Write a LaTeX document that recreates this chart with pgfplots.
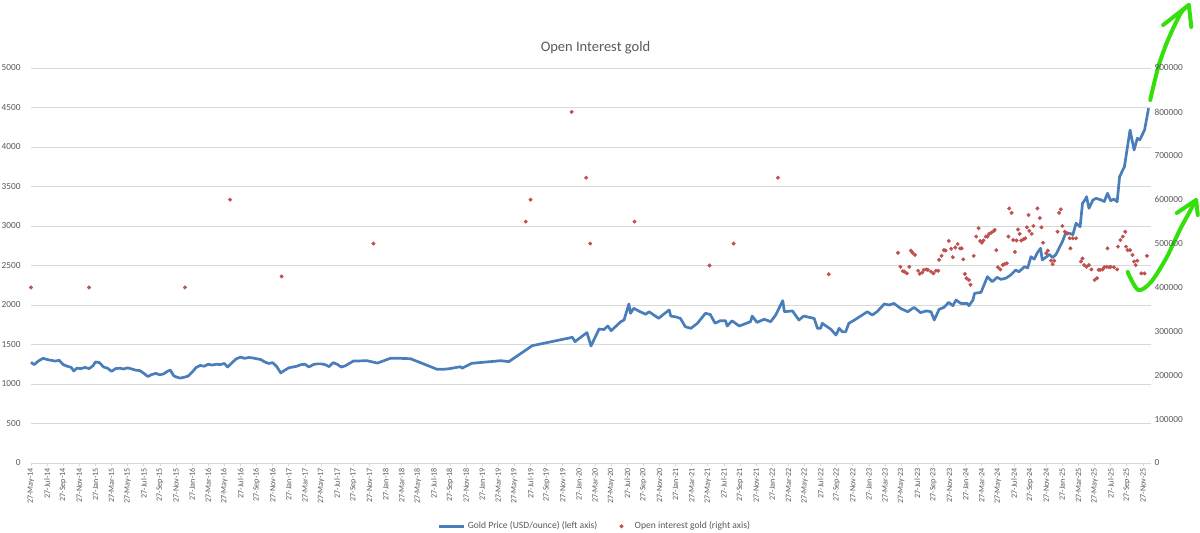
\documentclass[border=0pt]{standalone}
\usepackage{fontspec}
\setmainfont{Carlito}
\usepackage{pgfplots}
\pgfplotsset{compat=1.18}

\definecolor{goldline}{HTML}{4A7EBB}
\definecolor{oidot}{HTML}{C0504D}
\definecolor{txtgray}{HTML}{595959}
\definecolor{gridgray}{HTML}{D9D9D9}
\definecolor{pengreen}{HTML}{34E00C}

\pgfplotsset{
  chartbase/.style={
    width=1120pt, height=395pt, scale only axis,
    xmin=0, xmax=139,
    ticklabel style={font=\fontsize{9.3}{10}\selectfont, text=txtgray},
    /pgf/number format/assume math mode=true,
    /pgf/number format/fixed,
    /pgf/number format/precision=0,
    /pgf/number format/1000 sep={},
    scaled y ticks=false,
    ytick style={draw=none},
    y axis line style={draw=none},
  },
  longline/.style={legend image code/.code={\draw[##1] (0pt,0pt) -- (25pt,0pt);}},
  dotleg/.style={legend image code/.code={\path (0pt,0pt) (16pt,0pt); \draw[##1] plot coordinates {(5pt,0pt)};}},
}

\begin{document}
\begin{tikzpicture}
% left axis: gold price
\begin{axis}[chartbase, name=ax,
  clip=false,
  ymin=0, ymax=5000, ytick={0,500,...,5000},
  yticklabel style={xshift=-4pt},
  axis x line*=bottom, axis y line*=left,
  x axis line style={draw=gridgray, line width=0.8pt},
  xtick={0,2,...,138},
  xtick style={draw=gridgray, line width=0.8pt},
  tick align=outside, major tick length=3pt,
  xticklabel style={rotate=90, anchor=east, inner sep=2pt, font=\fontsize{8.1}{9}\selectfont},
  xticklabels={27-May-14,27-Jul-14,27-Sep-14,27-Nov-14,
    27-Jan-15,27-Mar-15,27-May-15,27-Jul-15,27-Sep-15,27-Nov-15,
    27-Jan-16,27-Mar-16,27-May-16,27-Jul-16,27-Sep-16,27-Nov-16,
    27-Jan-17,27-Mar-17,27-May-17,27-Jul-17,27-Sep-17,27-Nov-17,
    27-Jan-18,27-Mar-18,27-May-18,27-Jul-18,27-Sep-18,27-Nov-18,
    27-Jan-19,27-Mar-19,27-May-19,27-Jul-19,27-Sep-19,27-Nov-19,
    27-Jan-20,27-Mar-20,27-May-20,27-Jul-20,27-Sep-20,27-Nov-20,
    27-Jan-21,27-Mar-21,27-May-21,27-Jul-21,27-Sep-21,27-Nov-21,
    27-Jan-22,27-Mar-22,27-May-22,27-Jul-22,27-Sep-22,27-Nov-22,
    27-Jan-23,27-Mar-23,27-May-23,27-Jul-23,27-Sep-23,27-Nov-23,
    27-Jan-24,27-Mar-24,27-May-24,27-Jul-24,27-Sep-24,27-Nov-24,
    27-Jan-25,27-Mar-25,27-May-25,27-Jul-25,27-Sep-25,27-Nov-25},
  ymajorgrids, grid style={draw=gridgray, line width=0.8pt},
  title={Open Interest gold},
  title style={at={(0.504,1.036)}, anchor=center,
    font=\fontsize{14.5}{16}\selectfont, text=txtgray},
]
\addplot[goldline, line width=2.7pt, line join=round, no marks] coordinates {
(0,1275) (0.4,1245) (0.9,1290) (1.5,1325) (2,1310) (2.5,1300) (3,1290) (3.5,1300)
(4,1245) (4.5,1225) (5,1210) (5.3,1165) (5.7,1200) (6.2,1195) (6.7,1210) (7.2,1195)
(7.7,1230) (8,1280) (8.5,1270) (9,1215) (9.5,1200) (10,1160) (10.5,1195) (11,1200)
(11.5,1190) (12,1205) (12.5,1190) (13,1175) (13.5,1170) (14,1135) (14.5,1095) (15,1120)
(15.5,1135) (16,1115) (16.5,1130) (17,1165) (17.3,1175) (17.7,1105) (18,1090) (18.5,1075)
(19,1085) (19.5,1100) (20,1150) (20.5,1210) (21,1235) (21.5,1225) (22,1250) (22.5,1240)
(23,1250) (23.5,1245) (24,1260) (24.4,1215) (25,1275) (25.5,1320) (26,1340) (26.5,1325)
(27,1335) (27.5,1330) (28,1320) (28.5,1310) (29,1280) (29.5,1260) (30,1270) (30.5,1220)
(31,1140) (31.5,1175) (32,1205) (32.5,1215) (33,1225) (33.5,1245) (34,1250) (34.5,1215)
(35,1245) (35.5,1255) (36,1255) (36.5,1245) (37,1220) (37.5,1270) (38,1250) (38.5,1215)
(39,1230) (40,1290) (41.7,1295) (43,1265) (44.6,1325) (45.8,1325) (47.1,1320) (50.4,1186)
(51.2,1186) (52,1195) (53.3,1219) (53.5,1200) (54.7,1262) (58.3,1295) (59.3,1283) (60.7,1380)
(62.2,1485) (67.2,1591) (67.5,1536) (69,1650) (69.5,1481) (70.5,1696) (71.1,1690) (71.6,1734)
(72,1675) (73.2,1789) (73.6,1810) (74.2,2013) (74.4,1895) (74.8,1958) (75.6,1915) (76.3,1882)
(76.7,1915) (77.9,1831) (78.5,1882) (79.2,1937) (79.4,1860) (80,1850) (80.6,1830) (81.2,1725)
(81.9,1705) (82.7,1768) (83.7,1895) (84.3,1880) (84.9,1769) (85.5,1800) (86.2,1800) (86.4,1734)
(87,1800) (87.9,1734) (89.3,1789) (89.5,1860) (90.1,1780) (91,1820) (91.8,1789) (92.4,1870)
(93.3,2055) (93.5,1915) (94.5,1925) (95.3,1810) (95.9,1860) (97.2,1830) (97.6,1705) (98,1705)
(98.2,1768) (99.3,1690) (99.9,1620) (100.3,1705) (100.7,1660) (101.1,1660) (101.5,1768) (102.2,1810)
(103.8,1915) (104.4,1873) (105,1915) (105.9,2013) (106.5,2000) (107.1,2020) (107.9,1958) (108.8,1915)
(109.6,1970) (110.4,1903) (111.1,1925) (111.7,1915) (112.1,1810) (112.7,1945) (113.3,1970) (113.9,2034)
(114.4,1990) (114.8,2063) (115.4,2020) (116.2,2020) (116.4,1990) (116.9,2063) (117.1,2148) (117.9,2160)
(118.7,2358) (119.3,2295) (119.9,2350) (120.4,2325) (121,2340) (121.6,2380) (122.2,2443) (122.6,2420)
(123.3,2485) (123.7,2470) (124.1,2611) (124.5,2580) (124.9,2662) (125.3,2718) (125.5,2570) (125.9,2600)
(126.4,2640) (126.8,2600) (127.2,2640) (127.6,2720) (128,2801) (128.4,2907) (128.9,2907) (129.3,2890)
(129.7,3034) (130.2,2991) (130.5,3287) (130.8,3330) (131,3371) (131.3,3224) (131.8,3330) (132.2,3350)
(132.8,3330) (133.2,3310) (133.6,3414) (134,3320) (134.4,3340) (134.8,3308) (135.1,3624) (135.7,3751)
(136.4,4215) (136.9,3962) (137.3,4110) (137.6,4090) (138.2,4215) (138.7,4490)
};
% hand-drawn green arrows
\draw[pengreen, line width=4pt, line cap=round, line join=round]
  plot[smooth] coordinates {(axis cs:138.9,4595) (axis cs:139.9,5013) (axis cs:141.1,5354) (axis cs:142.7,5696) (axis cs:143.7,5797)};
\draw[pengreen, line width=4pt, line cap=round, line join=round]
  (axis cs:140.5,5544) -- (axis cs:143.7,5797) -- (axis cs:144.0,5519);
\draw[pengreen, line width=4pt, line cap=round, line join=round]
  plot[smooth] coordinates {(axis cs:136.1,2418) (axis cs:137.4,2190) (axis cs:139,2291) (axis cs:140.9,2595) (axis cs:142.7,2975) (axis cs:144.6,3329)};
\draw[pengreen, line width=4pt, line cap=round, line join=round]
  (axis cs:142.2,3165) -- (axis cs:144.6,3329) -- (axis cs:144.8,3139);
\end{axis}

% right axis: open interest
\begin{axis}[chartbase,
  ymin=0, ymax=900000, ytick={0,100000,...,900000},
  axis x line=none, axis y line*=right,
  legend style={at={(0.5036,-0.16)}, anchor=center, draw=none, fill=none,
    font=\fontsize{9.6}{10}\selectfont, text=txtgray,
    /tikz/every even column/.append style={column sep=17pt}},
  legend columns=2,
]
\addlegendimage{goldline, line width=2.7pt, longline}
\addlegendentry{Gold Price (USD/ounce) (left axis)}
\addplot[only marks, mark=*, mark size=1.8pt, color=oidot, dotleg] coordinates {
(0,400000) (7.2,400000) (19.1,400000) (24.7,600000) (31.1,425000) (42.5,500000) (61.4,550000) (62,600000)
(67.1,800000) (68.9,650000) (69.4,500000) (74.9,550000) (84.2,450000) (87.2,500000) (92.7,650000) (99,430000)
(107.6,479000) (107.9,447000) (108.2,437000) (108.4,436000) (108.7,432000) (109,447000) (109.2,484000) (109.4,479000)
(109.7,474000) (110.1,438000) (110.3,431000) (110.6,434000) (110.8,440000) (111.1,441000) (111.3,440000) (111.7,436000)
(112,432000) (112.3,438000) (112.6,438000) (112.7,463000) (113,472000) (113.3,485000) (113.5,484000) (113.9,506000)
(114.2,488000) (114.4,469000) (114.7,491000) (115,499000) (115.3,489000) (115.5,489000) (115.7,464000) (115.9,431000)
(116.1,421000) (116.4,417000) (116.6,406000) (117,472000) (117.3,516000) (117.6,535000) (117.8,506000) (118,502000)
(118.2,507000) (118.5,516000) (118.7,516000) (118.9,522000) (119.2,525000) (119.5,529000) (119.6,531000) (119.8,485000)
(120,446000) (120.3,441000) (120.6,451000) (120.8,453000) (121.1,455000) (121.3,516000) (121.4,580000) (121.7,570000)
(121.9,508000) (122.1,481000) (122.3,507000) (122.5,532000) (122.7,522000) (122.9,507000) (123.2,510000) (123.4,512000)
(123.6,537000) (123.8,565000) (123.9,529000) (124.2,522000) (124.4,540000) (124.9,580000) (125.2,558000) (125.4,537000)
(125.6,502000) (126,478000) (126.2,484000) (126.6,461000) (126.8,453000) (127,461000) (127.4,527000) (127.6,570000)
(127.8,578000) (128,540000) (128.3,527000) (128.6,523000) (128.9,512000) (129,489000) (129.3,512000) (129.7,512000)
(130.3,459000) (130.5,466000) (130.7,451000) (131,447000) (131.3,451000) (131.6,441000) (132,417000) (132.3,421000)
(132.5,440000) (132.7,440000) (133,441000) (133.2,446000) (133.5,447000) (133.6,489000) (133.8,446000) (134,447000)
(134.4,446000) (134.8,441000) (134.9,493000) (135.2,508000) (135.5,516000) (135.8,527000) (135.9,493000) (136.1,485000)
(136.4,485000) (136.7,474000) (136.9,459000) (137.1,451000) (137.3,461000) (137.8,432000) (138.2,432000) (138.5,472000)
};
\addlegendentry{Open interest gold (right axis)}
\end{axis}

\pgfresetboundingbox
\path[use as bounding box] ([xshift=-31pt,yshift=-70pt]ax.south west) rectangle ([xshift=49pt,yshift=68pt]ax.north east);
\end{tikzpicture}
\end{document}
